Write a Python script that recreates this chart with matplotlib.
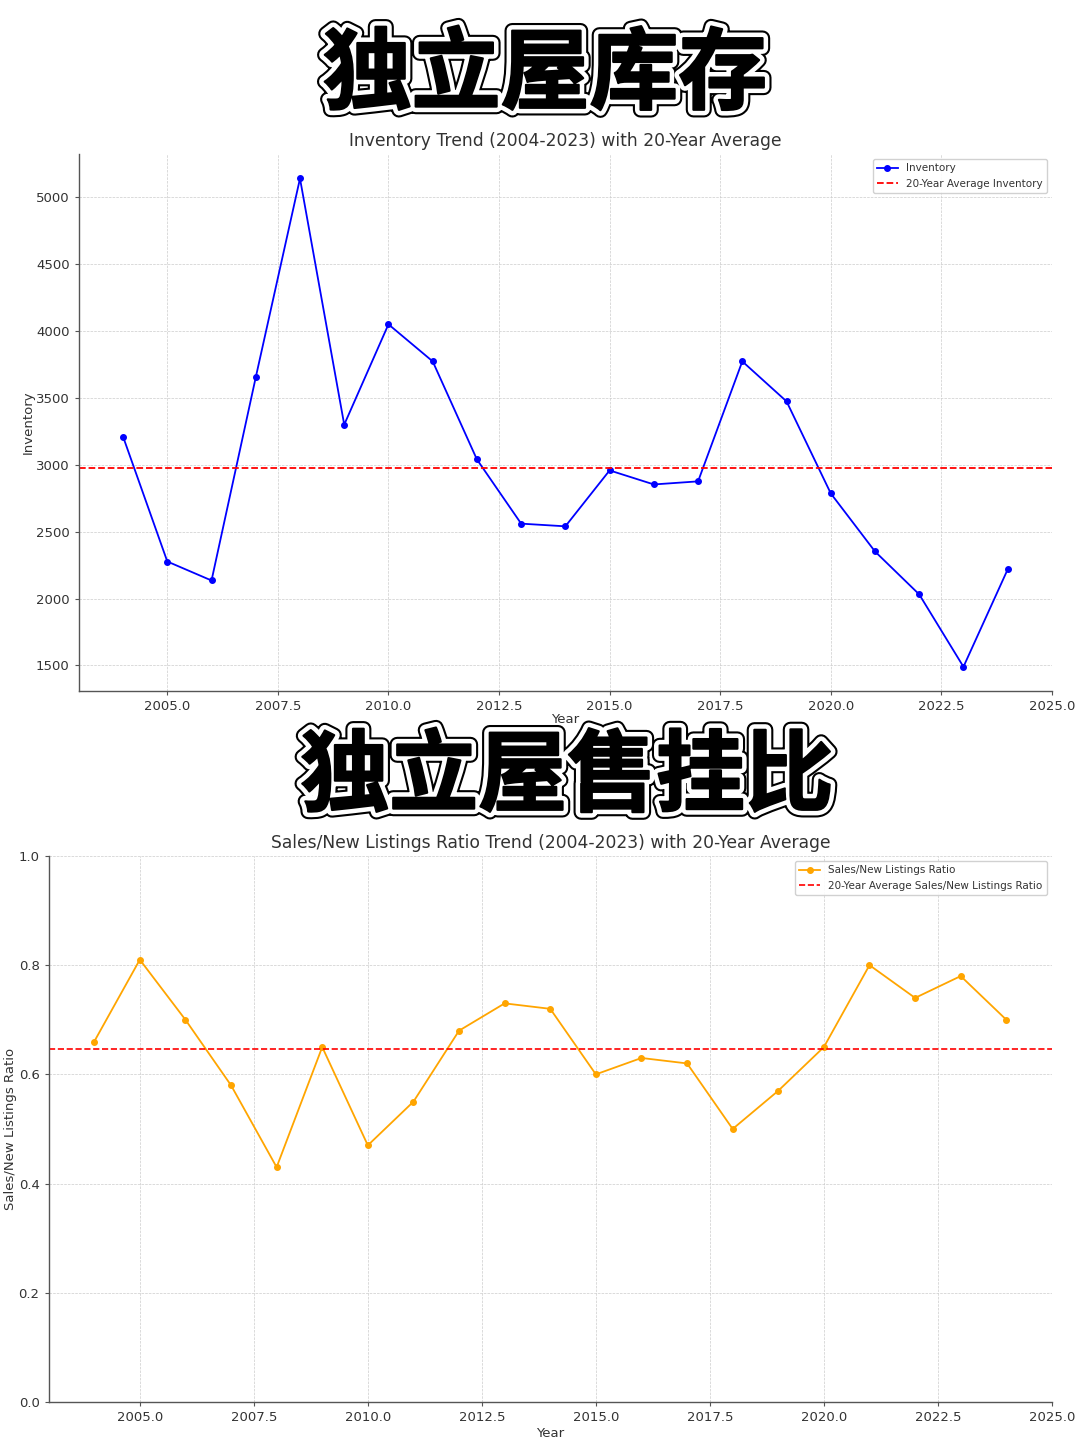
import numpy as np
import matplotlib
matplotlib.use("Agg")
import matplotlib.pyplot as plt
import matplotlib.patheffects as pe

years = list(range(2004, 2025))
inventory = [3210, 2277, 2135, 3654, 5140, 3300, 4050, 3773, 3040, 2560,
             2540, 2958, 2853, 2876, 3773, 3474, 2786, 2352, 2031, 1490, 2218]
ratio = [0.66, 0.81, 0.70, 0.58, 0.43, 0.65, 0.47, 0.55, 0.68, 0.73,
         0.72, 0.60, 0.63, 0.62, 0.50, 0.57, 0.65, 0.80, 0.74, 0.78, 0.70]

title_top = "独立屋库存"
title_bottom = "独立屋售挂比"
sub_top = "Inventory Trend (2004-2023) with 20-Year Average"
sub_bottom = "Sales/New Listings Ratio Trend (2004-2023) with 20-Year Average"

txt = "#333333"
plt.rcParams['font.family'] = ['DejaVu Sans']
plt.rcParams['text.color'] = txt
plt.rcParams['axes.labelcolor'] = txt
plt.rcParams['xtick.color'] = txt
plt.rcParams['ytick.color'] = txt

fig = plt.figure(figsize=(10.8, 14.4), dpi=100)

def style(ax):
    for s in ['top', 'right']:
        ax.spines[s].set_visible(False)
    for s in ['left', 'bottom']:
        ax.spines[s].set_color('#555555')
        ax.spines[s].set_linewidth(1.0)
    ax.grid(True, linestyle='--', linewidth=0.5, color='#cccccc')
    ax.tick_params(labelsize=9.5, length=3, color='#555555')

ax1 = fig.add_axes([0.073, 0.520, 0.901, 0.373])
ax1.plot(years, inventory, color='blue', marker='o', markersize=4, linewidth=1.3, label='Inventory')
ax1.axhline(np.mean(inventory), color='red', linestyle='--', linewidth=1.3, label='20-Year Average Inventory')
ax1.set_xlim(2003, 2025)
ax1.set_title(sub_top, fontsize=12.3, color=txt)
ax1.set_xlabel('Year', fontsize=9.5, labelpad=0)
ax1.set_ylabel('Inventory', fontsize=9.5, labelpad=1)
style(ax1)
ax1.legend(loc='upper right', fontsize=7.5, framealpha=0.9)

ax2 = fig.add_axes([0.045, 0.0264, 0.929, 0.3792])
ax2.plot(years, ratio, color='orange', marker='o', markersize=4, linewidth=1.3, label='Sales/New Listings Ratio')
ax2.axhline(np.mean(ratio), color='red', linestyle='--', linewidth=1.2, label='20-Year Average Sales/New Listings Ratio')
ax2.set_xlim(2003, 2025)
ax2.set_ylim(0, 1)
ax2.set_title(sub_bottom, fontsize=12.3, color=txt)
ax2.set_xlabel('Year', fontsize=9.5, labelpad=2)
ax2.set_ylabel('Sales/New Listings Ratio', fontsize=9.5, labelpad=1)
style(ax2)
ax2.legend(loc='upper right', fontsize=7.5, framealpha=0.9)

effects = [pe.Stroke(linewidth=11, foreground='black'),
           pe.Stroke(linewidth=8, foreground='white'),
           pe.Stroke(linewidth=1.5, foreground='black'),
           pe.Normal()]
fig.text(545/1080, 1 - 76/1440, title_top, ha='center', va='center', fontsize=64,
         family=['Noto Sans CJK SC', 'DejaVu Sans'], fontweight='black', color='black',
         path_effects=effects, zorder=10)
fig.text(567/1080, 1 - 778/1440, title_bottom, ha='center', va='center', fontsize=64,
         family=['Noto Sans CJK SC', 'DejaVu Sans'], fontweight='black', color='black',
         path_effects=effects, zorder=10)

fig.savefig('out.png', dpi=100)
